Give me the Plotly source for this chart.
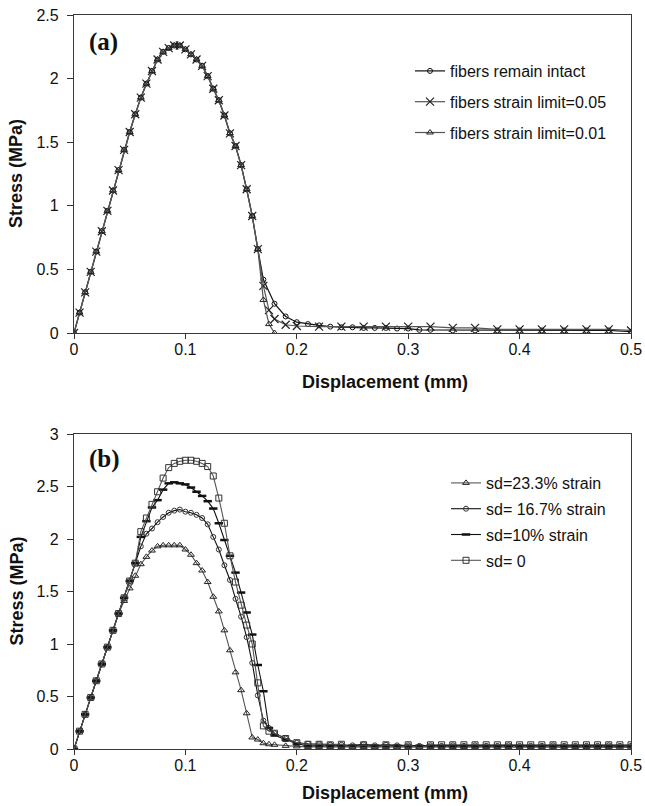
import plotly.graph_objects as go

# ---------------- Panel (a) data ----------------
a_rise_x = [0, 0.005, 0.01, 0.015, 0.02, 0.025, 0.03, 0.035, 0.04, 0.045, 0.05,
            0.055, 0.06, 0.065, 0.07, 0.075, 0.08, 0.085, 0.09, 0.095, 0.1,
            0.105, 0.11, 0.115, 0.12, 0.125, 0.13, 0.135, 0.14, 0.145, 0.15,
            0.155, 0.16, 0.165]
a_rise_y = [0, 0.16, 0.32, 0.48, 0.64, 0.80, 0.96, 1.12, 1.28, 1.44, 1.58,
            1.72, 1.85, 1.96, 2.06, 2.15, 2.21, 2.24, 2.26, 2.26, 2.23,
            2.19, 2.15, 2.10, 2.02, 1.92, 1.83, 1.71, 1.57, 1.47, 1.32,
            1.13, 0.92, 0.66]

intact_tail_x = [0.17, 0.18, 0.19, 0.20, 0.21, 0.22, 0.23, 0.24, 0.25, 0.26,
                 0.27, 0.28, 0.29, 0.30, 0.31, 0.32, 0.34, 0.36, 0.38, 0.40,
                 0.42, 0.44, 0.46, 0.48, 0.50]
intact_tail_y = [0.42, 0.23, 0.13, 0.085, 0.07, 0.06, 0.05, 0.045, 0.045, 0.04,
                 0.04, 0.04, 0.035, 0.035, 0.025, 0.025, 0.02, 0.02, 0.02, 0.02,
                 0.02, 0.02, 0.02, 0.02, 0.01]

lim05_tail_x = [0.17, 0.175, 0.18, 0.19, 0.20, 0.22, 0.24, 0.26, 0.28, 0.30,
                0.32, 0.34, 0.36, 0.38, 0.40, 0.42, 0.44, 0.46, 0.48, 0.50]
lim05_tail_y = [0.37, 0.18, 0.11, 0.065, 0.055, 0.05, 0.05, 0.05, 0.05, 0.05,
                0.05, 0.04, 0.04, 0.028, 0.028, 0.028, 0.028, 0.028, 0.028, 0.02]

lim01_tail_x = [0.17, 0.175, 0.18]
lim01_tail_y = [0.26, 0.07, 0.0]

# ---------------- Panel (b) data ----------------
b_rise_x = [0, 0.005, 0.01, 0.015, 0.02, 0.025, 0.03, 0.035, 0.04, 0.045, 0.05, 0.055]
b_rise_y = [0, 0.17, 0.33, 0.49, 0.65, 0.81, 0.97, 1.13, 1.29, 1.44, 1.60, 1.77]

b_peak_x = [0.06, 0.065, 0.07, 0.075, 0.08, 0.085, 0.09, 0.095, 0.1, 0.105,
            0.11, 0.115, 0.12, 0.125, 0.13, 0.135, 0.14, 0.145, 0.15, 0.155,
            0.16, 0.165, 0.17, 0.175, 0.18, 0.19, 0.20]
b_tail_x = [0.21, 0.22, 0.23, 0.24, 0.25, 0.26, 0.27, 0.28, 0.29, 0.30,
            0.31, 0.32, 0.33, 0.34, 0.35, 0.36, 0.37, 0.38, 0.39, 0.40,
            0.41, 0.42, 0.43, 0.44, 0.45, 0.46, 0.47, 0.48, 0.49, 0.50]

sd233_rise_y = [0, 0.17, 0.33, 0.49, 0.65, 0.81, 0.97, 1.13, 1.29, 1.41, 1.53, 1.65]
sd233_peak_y = [1.76, 1.83, 1.89, 1.93, 1.94, 1.94, 1.94, 1.94, 1.90, 1.85,
                1.77, 1.70, 1.59, 1.45, 1.31, 1.13, 0.94, 0.73, 0.56, 0.34,
                0.11, 0.09, 0.055, 0.045, 0.04, 0.03, 0.025]
sd233_tail_y = [0.02, 0.02, 0.02, 0.02, 0.02, 0.02, 0.02, 0.02, 0.02, 0.02,
                0.02, 0.02, 0.02, 0.02, 0.02, 0.02, 0.02, 0.02, 0.02, 0.02,
                0.02, 0.02, 0.02, 0.02, 0.02, 0.02, 0.02, 0.02, 0.015, 0.015]

sd167_peak_y = [1.93, 2.05, 2.10, 2.16, 2.21, 2.25, 2.27, 2.28, 2.26, 2.25,
                2.23, 2.20, 2.14, 2.02, 1.90, 1.75, 1.61, 1.43, 1.26, 1.065,
                0.82, 0.51, 0.27, 0.20, 0.15, 0.10, 0.06]
sd167_tail_y = [0.05, 0.045, 0.04, 0.04, 0.035, 0.045, 0.035, 0.04, 0.035, 0.035,
                0.03, 0.035, 0.03, 0.035, 0.03, 0.035, 0.03, 0.03, 0.035, 0.03,
                0.03, 0.03, 0.035, 0.03, 0.03, 0.03, 0.03, 0.035, 0.03, 0.03]

sd10_peak_y = [2.02, 2.17, 2.30, 2.37, 2.47, 2.53, 2.54, 2.53, 2.52, 2.49,
               2.45, 2.41, 2.36, 2.29, 2.15, 1.99, 1.84, 1.68, 1.49, 1.30,
               1.09, 0.80, 0.55, 0.20, 0.13, 0.09, 0.05]
sd10_tail_y = [0.03, 0.03, 0.03, 0.03, 0.03, 0.03, 0.03, 0.03, 0.03, 0.03,
               0.03, 0.03, 0.03, 0.03, 0.03, 0.03, 0.03, 0.03, 0.03, 0.03,
               0.03, 0.03, 0.03, 0.03, 0.03, 0.03, 0.03, 0.03, 0.03, 0.03]

sd0_peak_y = [2.07, 2.20, 2.33, 2.45, 2.58, 2.68, 2.72, 2.74, 2.75, 2.75,
              2.74, 2.72, 2.69, 2.60, 2.39, 2.15, 1.84, 1.59, 1.37, 1.18,
              1.00, 0.63, 0.22, 0.17, 0.15, 0.10, 0.06]
sd0_tail_y = [0.045, 0.045, 0.04, 0.045, 0.01, 0.04, 0.01, 0.04, 0.01, 0.04,
              0.01, 0.04, 0.04, 0.04, 0.04, 0.04, 0.04, 0.04, 0.04, 0.04,
              0.04, 0.04, 0.04, 0.04, 0.04, 0.04, 0.04, 0.04, 0.04, 0.04]

legend_a = ["fibers remain intact", "fibers strain limit=0.05", "fibers strain limit=0.01"]
legend_b = ["sd=23.3% strain", "sd= 16.7% strain", "sd=10% strain", "sd= 0"]
x_title = "Displacement (mm)"
y_title = "Stress (MPa)"

fig = go.Figure()

# ---- panel (a) traces ----
fig.add_trace(go.Scatter(
    x=a_rise_x + intact_tail_x, y=a_rise_y + intact_tail_y, name=legend_a[0],
    mode="lines+markers", line=dict(color="#111111", width=1.2),
    marker=dict(symbol="circle-open", size=5, color="#111111", line=dict(width=1)),
    legend="legend", legendgroup="a1", xaxis="x", yaxis="y"))
fig.add_trace(go.Scatter(
    x=a_rise_x + lim05_tail_x, y=a_rise_y + lim05_tail_y, name=legend_a[1],
    mode="lines+markers", line=dict(color="#555555", width=1.2),
    marker=dict(symbol="x-thin-open", size=8, color="#222222", line=dict(width=1.2, color="#222222")),
    legend="legend", legendgroup="a2", xaxis="x", yaxis="y"))
fig.add_trace(go.Scatter(
    x=a_rise_x + lim01_tail_x, y=a_rise_y + lim01_tail_y, name=legend_a[2],
    mode="lines+markers", line=dict(color="#555555", width=1.2),
    marker=dict(symbol="triangle-up-open", size=6, color="#222222", line=dict(width=1)),
    legend="legend", legendgroup="a3", xaxis="x", yaxis="y"))

# ---- panel (b) traces ----
bx = b_rise_x + b_peak_x + b_tail_x
fig.add_trace(go.Scatter(
    x=bx, y=sd233_rise_y + sd233_peak_y + sd233_tail_y, name=legend_b[0],
    mode="lines+markers", line=dict(color="#555555", width=1.1),
    marker=dict(symbol="triangle-up-open", size=6, color="#222222", line=dict(width=1)),
    legend="legend2", legendgroup="b1", xaxis="x2", yaxis="y2"))
fig.add_trace(go.Scatter(
    x=bx, y=b_rise_y + sd167_peak_y + sd167_tail_y, name=legend_b[1],
    mode="lines+markers", line=dict(color="#111111", width=1.1),
    marker=dict(symbol="circle-open", size=5, color="#333333", line=dict(width=1)),
    legend="legend2", legendgroup="b2", xaxis="x2", yaxis="y2"))
fig.add_trace(go.Scatter(
    x=bx, y=b_rise_y + sd10_peak_y + sd10_tail_y, name=legend_b[2],
    mode="lines+markers", line=dict(color="#111111", width=1.1),
    marker=dict(symbol="line-ew-open", size=6, color="#111111", line=dict(width=2.5, color="#111111")),
    legend="legend2", legendgroup="b3", xaxis="x2", yaxis="y2"))
fig.add_trace(go.Scatter(
    x=bx, y=b_rise_y + sd0_peak_y + sd0_tail_y, name=legend_b[3],
    mode="lines+markers", line=dict(color="#555555", width=1.1),
    marker=dict(symbol="square-open", size=6, color="#333333", line=dict(width=1)),
    legend="legend2", legendgroup="b4", xaxis="x2", yaxis="y2"))

W, H = 645, 806
xdom = [74 / W, 631 / W]
ydom_a = [1 - 333 / H, 1 - 15 / H]
ydom_b = [1 - 749 / H, 1 - 434 / H]

tickfont = dict(family="Liberation Sans, Arial, sans-serif", size=16, color="#111111")
titlefont = dict(family="Liberation Sans, Arial, sans-serif", size=18, color="#111111")
legfont = dict(family="Liberation Sans, Arial, sans-serif", size=16, color="#111111")
panelfont = dict(family="Liberation Serif, Times New Roman, serif", size=25, color="#111111")

def xax(anchor, dom):
    return dict(domain=dom, anchor=anchor, range=[0, 0.5], dtick=0.1, tick0=0,
                showgrid=False, zeroline=False, showline=True, mirror=True,
                linecolor="#3a3a3a", linewidth=1.3, ticks="outside", ticklen=5,
                tickcolor="#333333", tickfont=tickfont, automargin=False,
                ticklabelstandoff=-3)

def yax(anchor, dom, top):
    return dict(domain=dom, anchor=anchor, range=[0, top], dtick=0.5, tick0=0,
                showgrid=False, zeroline=False, showline=True, mirror=True,
                linecolor="#3a3a3a", linewidth=1.3, ticks="outside", ticklen=6,
                tickcolor="#333333", tickfont=tickfont, automargin=False,
                ticklabelstandoff=5)

annotations = []
for xr, yr, label, ly in [("x", "y", "(a)", 0.915), ("x2", "y2", "(b)", 0.92)]:
    annotations.append(dict(text="<b>%s</b>" % label, xref=xr + " domain", yref=yr + " domain",
                            x=0.024, y=ly, xanchor="left", yanchor="middle",
                            showarrow=False, font=panelfont))
# axis titles
annotations.append(dict(text="<b>%s</b>" % x_title, xref="x domain", yref="y domain",
                        x=0.558, y=-(382 - 333) / 318, xanchor="center", yanchor="middle",
                        showarrow=False, font=titlefont))
annotations.append(dict(text="<b>%s</b>" % x_title, xref="x2 domain", yref="y2 domain",
                        x=0.558, y=-(793 - 749) / 315, xanchor="center", yanchor="middle",
                        showarrow=False, font=titlefont))
annotations.append(dict(text="<b>%s</b>" % y_title, xref="x domain", yref="y domain",
                        x=(16 - 74) / 557, y=0.5, xanchor="center", yanchor="middle",
                        textangle=-90, showarrow=False, font=titlefont))
annotations.append(dict(text="<b>%s</b>" % y_title, xref="x2 domain", yref="y2 domain",
                        x=(16 - 74) / 557, y=0.5, xanchor="center", yanchor="middle",
                        textangle=-90, showarrow=False, font=titlefont))

fig.update_layout(
    width=W, height=H,
    margin=dict(l=0, r=0, t=0, b=0),
    paper_bgcolor="white", plot_bgcolor="white",
    xaxis=xax("y", xdom), yaxis=yax("x", ydom_a, 2.5),
    xaxis2=xax("y2", xdom), yaxis2=yax("x2", ydom_b, 3),
    legend=dict(x=410 / W, y=1 - 54 / H, xanchor="left", yanchor="top",
                font=legfont, bgcolor="rgba(0,0,0,0)", tracegroupgap=7,
                itemwidth=30),
    legend2=dict(x=446 / W, y=1 - 466 / H, xanchor="left", yanchor="top",
                 font=legfont, bgcolor="rgba(0,0,0,0)", tracegroupgap=2,
                 itemwidth=30),
    annotations=annotations,
)

fig.write_html("out.html", config={"displayModeBar": False},
               post_script="document.body.style.margin='0';document.body.style.padding='0';")
